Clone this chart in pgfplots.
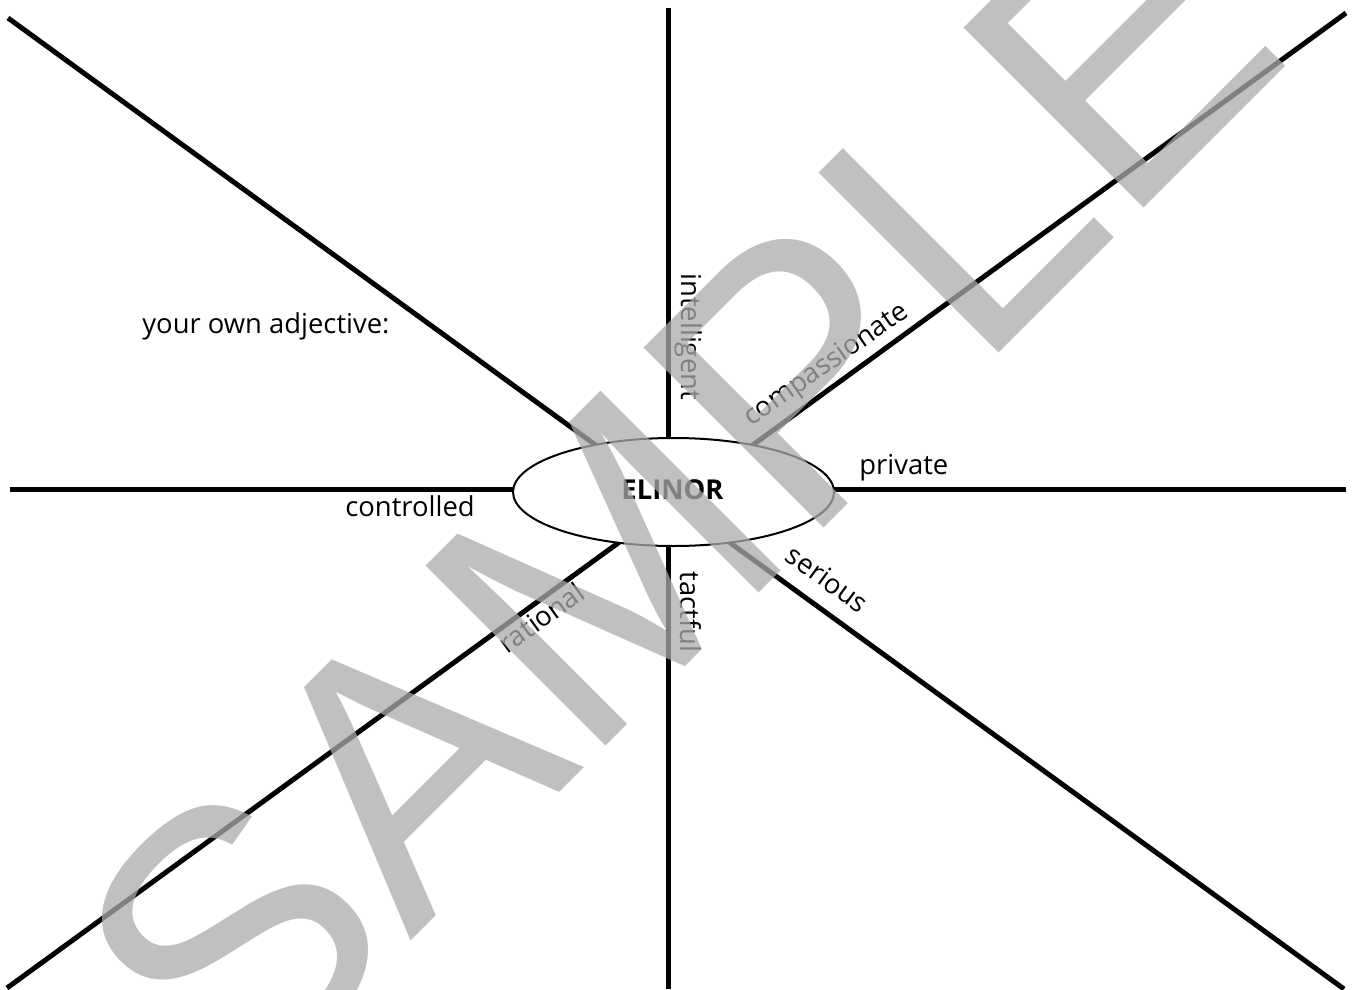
\documentclass[border=0pt]{standalone}
\usepackage{pgfplots}
\pgfplotsset{compat=1.18}
\usepackage{fontspec}
\setmainfont{Open Sans}
\newfontfamily\wmfont{Liberation Sans}
\definecolor{wm}{rgb}{0.67,0.67,0.67}
\begin{document}
\begin{tikzpicture}
\useasboundingbox (0,0) rectangle (676pt,494.5pt);
\begin{axis}[at={(0,0)}, anchor=south west, scale only axis,
  width=676pt, height=494.5pt,
  xmin=0, xmax=1352, ymin=0, ymax=989, y dir=reverse,
  hide axis, clip=false]
% spokes
\addplot[black, line width=2.5pt] coordinates {(8,18) (1344,989)};
\addplot[black, line width=2.5pt] coordinates {(7,988) (1346,13)};
\addplot[black, line width=2.5pt] coordinates {(10,489.5) (1346,489.5)};
\addplot[black, line width=2.5pt] coordinates {(668.3,8) (668.3,989)};
% centre ellipse
\draw[black, line width=1pt, fill=white] (axis cs:673.5,492) ellipse [x radius=80.25pt, y radius=27pt];
\node[anchor=base, font=\fontsize{13.7}{16}\selectfont\bfseries, inner sep=0] at (axis cs:672.5,499.5) {ELINOR};
% labels
\begin{scope}[every node/.style={font=\fontsize{13.7}{16}\selectfont, inner sep=0}]
\node[anchor=base west] at (axis cs:142,333) {your own adjective:};
\node[anchor=base west] at (axis cs:345,516.5) {controlled};
\node[anchor=base west] at (axis cs:859,474) {private};
\node[anchor=base west, rotate=-90] at (axis cs:681,273) {intelligent};
\node[anchor=base west, rotate=-90] at (axis cs:680,571) {tactful};
\node[anchor=base, rotate=35] at (axis cs:830.5,371) {compassionate};
\node[anchor=base, rotate=36] at (axis cs:547,626) {rational};
\node[anchor=base, rotate=-36] at (axis cs:821.6,587) {serious};
\end{scope}
% watermark
\node[rotate=45, inner sep=0, text=wm, opacity=0.75, font=\wmfont\fontsize{185}{185}\selectfont] at (axis cs:676.5,495.5) {SAMPLE};
\end{axis}
\end{tikzpicture}
\end{document}
